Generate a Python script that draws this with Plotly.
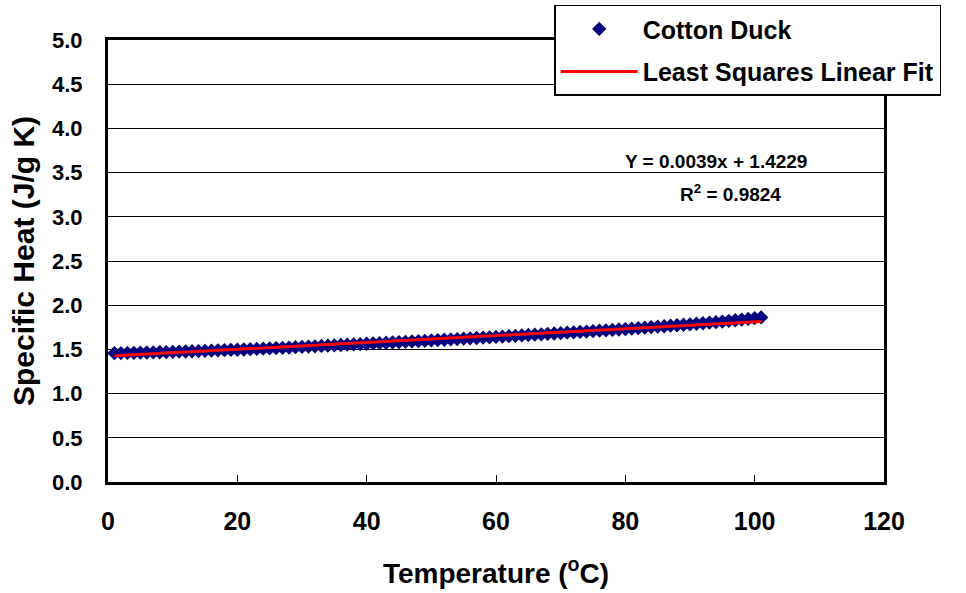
import plotly.graph_objects as go

temps = list(range(1, 102))
specific_heat = [
    1.457, 1.458, 1.460, 1.461, 1.463, 1.465, 1.466, 1.468, 1.470, 1.472,
    1.474, 1.476, 1.479, 1.481, 1.484, 1.486, 1.489, 1.491, 1.494, 1.496,
    1.499, 1.502, 1.505, 1.508, 1.512, 1.515, 1.518, 1.521, 1.525, 1.528,
    1.532, 1.535, 1.539, 1.542, 1.546, 1.550, 1.553, 1.557, 1.560, 1.564,
    1.568, 1.571, 1.575, 1.579, 1.583, 1.586, 1.590, 1.594, 1.597, 1.601,
    1.605, 1.609, 1.613, 1.617, 1.621, 1.625, 1.629, 1.633, 1.637, 1.641,
    1.645, 1.650, 1.654, 1.658, 1.663, 1.667, 1.671, 1.675, 1.680, 1.684,
    1.689, 1.693, 1.698, 1.702, 1.707, 1.712, 1.716, 1.721, 1.725, 1.730,
    1.735, 1.741, 1.746, 1.752, 1.757, 1.762, 1.768, 1.773, 1.779, 1.784,
    1.790, 1.796, 1.802, 1.808, 1.815, 1.822, 1.830, 1.837, 1.845, 1.853, 1.862,
]
fit_slope = 0.0039
fit_intercept = 1.4229
r_squared = 0.9824

fit_x = [temps[0], temps[-1]]
fit_y = [fit_slope * t + fit_intercept for t in fit_x]

FONT = "Liberation Sans, Arial, sans-serif"

fig = go.Figure()
fig.add_trace(go.Scatter(
    x=temps, y=specific_heat, mode="markers", name="Cotton Duck",
    legendgroup="a",
    marker=dict(symbol="diamond", size=11, color="#000080", line=dict(width=0)),
))
fig.add_trace(go.Scatter(
    x=fit_x, y=fit_y, mode="lines", name="Least Squares Linear Fit",
    legendgroup="b",
    line=dict(color="#FF0000", width=3),
))

fig.add_annotation(
    x=94.0, y=3.62, xref="x", yref="y", showarrow=False,
    text=f"Y = {fit_slope}x + {fit_intercept}",
    font=dict(family=FONT, size=19, color="black", weight="bold"),
)
fig.add_annotation(
    x=96.3, y=3.27, xref="x", yref="y", showarrow=False,
    text=f"R<sup>2</sup> = {r_squared}",
    font=dict(family=FONT, size=19, color="black", weight="bold"),
)

fig.update_layout(
    width=966, height=593,
    margin=dict(l=108, r=82, t=40, b=111, autoexpand=False),
    paper_bgcolor="white", plot_bgcolor="white",
    font=dict(family=FONT, color="black"),
    legend=dict(
        x=0.575, y=1.08, xanchor="left", yanchor="top",
        bgcolor="white", bordercolor="black", borderwidth=1.5,
        font=dict(family=FONT, size=25, color="black", weight="bold"),
        tracegroupgap=7, itemwidth=77,
    ),
    xaxis=dict(
        range=[0, 120], dtick=20, tick0=0,
        showline=True, linecolor="black", linewidth=3, mirror=True,
        ticks="inside", ticklen=7, tickwidth=1, tickcolor="black",
        showgrid=False, zeroline=False,
        tickfont=dict(family=FONT, size=25, weight="bold"),
        ticklabelstandoff=15,
        title=dict(text="Temperature (<sup>o</sup>C)", standoff=30,
                   font=dict(family=FONT, size=28, weight="bold")),
    ),
    yaxis=dict(
        range=[0, 5], dtick=0.5, tick0=0, tickformat=".1f",
        showline=True, linecolor="black", linewidth=3, mirror=True,
        ticks="inside", ticklen=6, tickwidth=1, tickcolor="black",
        showgrid=True, gridcolor="black", gridwidth=1, zeroline=False,
        tickfont=dict(family=FONT, size=22, weight="bold"),
        ticklabelstandoff=18,
        title=dict(text="Specific Heat (J/g K)", standoff=9,
                   font=dict(family=FONT, size=30, weight="bold")),
    ),
)

fig.write_html("out.html")
